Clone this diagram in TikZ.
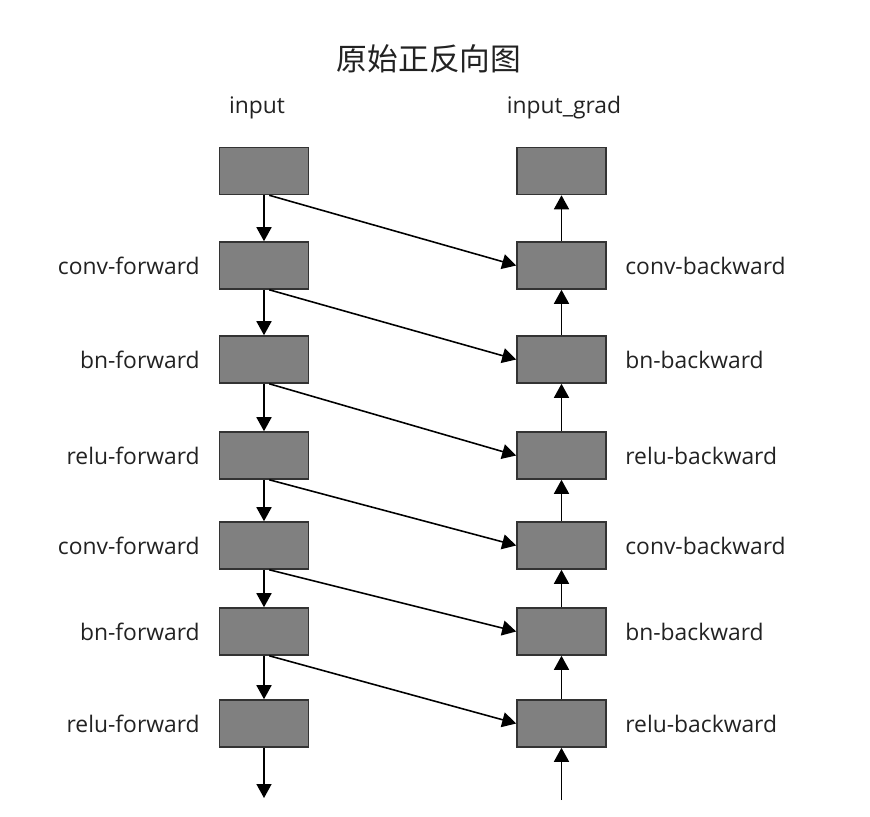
\documentclass[tikz,border=0pt]{standalone}
\usepackage{fontspec}
\setmainfont{Open Sans}
\newfontfamily\cjk{Noto Sans CJK SC}
\usetikzlibrary{arrows.meta}
\definecolor{boxfill}{HTML}{808080}
\definecolor{boxline}{HTML}{333333}
\definecolor{textgray}{HTML}{222222}

\tikzset{
	layer/.style={draw=boxline, fill=boxfill, line width=0.9pt,
		minimum width=1.78cm, minimum height=0.94cm, inner sep=0pt},
	flow/.style={line width=0.9pt, black, -{Triangle[length=0.28cm,width=0.3cm]}},
	lab/.style={text=textgray, font=\fontsize{13}{15}\selectfont, inner sep=0pt}
}

\begin{document}
\begin{tikzpicture}[x=0.02cm,y=-0.02cm]
		\useasboundingbox (0,0) rectangle (870,816);
		% title
		\node[text=textgray, font=\cjk\fontsize{17.5}{20}\selectfont] (title) at (429,59) {原始正反向图};
		\node[lab] (in) at (257,108) {input};
		\node[lab] (ingrad) at (564,108) {input\_grad};
		% forward column
		\node[layer] (l0) at (264,171) {};
		\node[layer] (l1) at (264,265.5) {};
		\node[layer] (l2) at (264,359.5) {};
		\node[layer] (l3) at (264,455.5) {};
		\node[layer] (l4) at (264,545.5) {};
		\node[layer] (l5) at (264,631.5) {};
		\node[layer] (l6) at (264,723.5) {};
		% backward column
		\node[layer] (r0) at (561.5,171) {};
		\node[layer] (r1) at (561.5,265.5) {};
		\node[layer] (r2) at (561.5,359.5) {};
		\node[layer] (r3) at (561.5,455.5) {};
		\node[layer] (r4) at (561.5,545.5) {};
		\node[layer] (r5) at (561.5,631.5) {};
		\node[layer] (r6) at (561.5,723.5) {};
		% forward labels
		\node[lab, anchor=east] (fl1) at (200,265.5) {conv-forward};
		\node[lab, anchor=east] (fl2) at (200,359.5) {bn-forward};
		\node[lab, anchor=east] (fl3) at (200,455.5) {relu-forward};
		\node[lab, anchor=east] (fl4) at (200,545.5) {conv-forward};
		\node[lab, anchor=east] (fl5) at (200,631.5) {bn-forward};
		\node[lab, anchor=east] (fl6) at (200,723.5) {relu-forward};
		% backward labels
		\node[lab, anchor=west] (bl1) at (625,265.5) {conv-backward};
		\node[lab, anchor=west] (bl2) at (625,359.5) {bn-backward};
		\node[lab, anchor=west] (bl3) at (625,455.5) {relu-backward};
		\node[lab, anchor=west] (bl4) at (625,545.5) {conv-backward};
		\node[lab, anchor=west] (bl5) at (625,631.5) {bn-backward};
		\node[lab, anchor=west] (bl6) at (625,723.5) {relu-backward};
		% loose ends
		\coordinate (fout) at (264,798);
		\coordinate (bin) at (561.5,800);
		% arrows
		\foreach \i/\j in {0/1,1/2,2/3,3/4,4/5,5/6}{
			\draw[flow] (l\i.south) -- (l\j.north);
			\draw[flow] (r\j.north) -- (r\i.south);
			\draw[flow] ([xshift=3pt]l\i.south) -- (r\j.west);
		}
		\draw[flow] (l6.south) -- (fout);
		\draw[flow] (bin) -- (r6.south);
\end{tikzpicture}
\end{document}
